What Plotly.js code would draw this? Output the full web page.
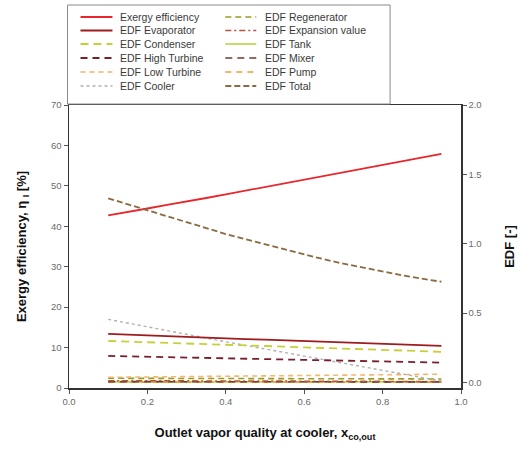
<!DOCTYPE html>
<html>
<head>
<meta charset="utf-8">
<script src="https://cdn.plot.ly/plotly-3.0.1.min.js"></script>
<style>html,body{margin:0;padding:0;background:#fff;}#chart{width:524px;height:451px;}</style>
</head>
<body>
<div id="chart"></div>
<script>
// ---- data ----
const xQuality = [0.10,0.15,0.20,0.25,0.30,0.35,0.40,0.45,0.50,0.55,0.60,0.65,0.70,0.75,0.80,0.85,0.90,0.95];
const exergyEff = [42.7,43.5,44.4,45.3,46.1,47.0,47.9,48.8,49.7,50.6,51.5,52.4,53.3,54.2,55.1,56.1,57.0,57.9];
const edfEvaporator = [0.350,0.344,0.339,0.334,0.328,0.323,0.318,0.313,0.308,0.303,0.298,0.293,0.288,0.284,0.279,0.275,0.269,0.264];
const edfCondenser = [0.299,0.295,0.290,0.285,0.281,0.276,0.271,0.267,0.262,0.258,0.253,0.249,0.244,0.240,0.235,0.231,0.226,0.221];
const edfHighTurbine = [0.191,0.188,0.185,0.182,0.179,0.176,0.173,0.170,0.167,0.164,0.161,0.158,0.155,0.152,0.150,0.147,0.145,0.143];
const edfLowTurbine = [0.037,0.038,0.040,0.041,0.042,0.044,0.045,0.046,0.048,0.049,0.050,0.052,0.053,0.054,0.056,0.057,0.058,0.060];
const edfCooler = [0.455,0.427,0.400,0.373,0.347,0.320,0.293,0.267,0.240,0.214,0.187,0.161,0.135,0.109,0.083,0.058,0.033,0.010];
const edfRegenerator = [0.030,0.030,0.030,0.029,0.029,0.029,0.028,0.028,0.028,0.027,0.027,0.027,0.026,0.026,0.026,0.025,0.025,0.025];
const edfExpansion = [0.013,0.013,0.012,0.012,0.012,0.011,0.011,0.011,0.010,0.010,0.010,0.009,0.009,0.008,0.008,0.007,0.007,0.006];
const edfTank = [0.004,0.004,0.004,0.004,0.004,0.004,0.004,0.004,0.004,0.004,0.004,0.004,0.004,0.004,0.004,0.004,0.004,0.004];
const edfMixer = [0.006,0.006,0.006,0.006,0.006,0.006,0.005,0.005,0.005,0.005,0.005,0.005,0.005,0.005,0.004,0.004,0.004,0.004];
const edfPump = [0.001,0.001,0.001,0.001,0.001,0.001,0.001,0.001,0.001,0.001,0.001,0.001,0.001,0.001,0.001,0.001,0.001,0.001];
const edfTotal = [1.327,1.284,1.240,1.196,1.153,1.110,1.070,1.032,0.995,0.958,0.923,0.888,0.856,0.827,0.799,0.772,0.748,0.726];

const seriesNames = ["Exergy efficiency","EDF Evaporator","EDF Condenser","EDF High Turbine","EDF Low Turbine","EDF Cooler",
                     "EDF Regenerator","EDF Expansion value","EDF Tank","EDF Mixer","EDF Pump","EDF Total"];
const seriesValues = [exergyEff,edfEvaporator,edfCondenser,edfHighTurbine,edfLowTurbine,edfCooler,
                      edfRegenerator,edfExpansion,edfTank,edfMixer,edfPump,edfTotal];
const xTickLabels = ["0.0","0.2","0.4","0.6","0.8","1.0"];
const y2TickLabels = ["0.0","0.5","1.0","1.5","2.0"];

// ---- styles ----
const colors = ["#e8262c","#9e1b1e","#c9cf3a","#7a1e2c","#f5b56a","#b0b0b0",
                "#9c9a22","#b5523e","#b9d44a","#6e3b2c","#f09a3c","#8a6a40"];
const dashes = ["solid","solid","8px,5px","7px,5px","5px,4px","dot",
                "6px,4px","6px,3px,2px,3px","solid","7px,5px","6px,5px","6px,3px"];
const widths = [1.8,1.8,1.8,1.8,1.6,1.4,1.6,1.5,1.6,1.6,1.6,1.8];

const traces = seriesNames.map((n,i)=>({
  x: xQuality, y: seriesValues[i], name: n, type: 'scatter', mode: 'lines',
  yaxis: i === 0 ? 'y' : 'y2',
  line: {color: colors[i], dash: dashes[i], width: widths[i]},
  showlegend: false
}));
const order = [8,10,9,7,6,4,5,3,2,1,11,0];
const data = order.map(i=>traces[i]);

// ---- manual legend geometry (pixels -> paper) ----
const L = 68.5, R = 461, T = 105, B = 388;
const px = v => (v - L) / (R - L);
const py = v => (B - v) / (B - T);
const shapes = [{type:'rect', xref:'paper', yref:'paper', x0:px(67), x1:px(390), y0:py(5), y1:py(104),
  line:{color:'#8a8a8a', width:1}, fillcolor:'#ffffff', layer:'above'}];
const annotations = [];
const rowY = [17,30.5,44,58,72,86];
seriesNames.forEach((n,i)=>{
  const col = i < 6 ? 0 : 1, row = i % 6;
  const sx0 = col ? 225 : 80, sx1 = col ? 256 : 112, tx = col ? 263 : 118;
  shapes.push({type:'line', xref:'paper', yref:'paper', x0:px(sx0), x1:px(sx1), y0:py(rowY[row]), y1:py(rowY[row]),
    line:{color:colors[i], dash:dashes[i], width:widths[i]}, layer:'above'});
  annotations.push({xref:'paper', yref:'paper', x:px(tx), y:py(rowY[row]), xanchor:'left', yanchor:'middle',
    text:n, showarrow:false, font:{family:'Arial, Liberation Sans, sans-serif', size:10.5, color:'#3a3a3a'}});
});

const tickFont = {family:'Arial, Liberation Sans, sans-serif', size:9.5, color:'#6a6a6a'};
const titleFont = {family:'Arial, Liberation Sans, sans-serif', size:13, color:'#111', weight:'bold'};

const layout = {
  width:524, height:451,
  margin:{l:68.5, r:63, t:105, b:63, pad:0},
  paper_bgcolor:'#fff', plot_bgcolor:'#fff',
  showlegend:false,
  xaxis:{range:[0,1], tickvals:[0,0.2,0.4,0.6,0.8,1.0], ticktext:xTickLabels,
    showgrid:false, zeroline:false, showline:true, linecolor:'#333', linewidth:1.5, mirror:true,
    ticks:'outside', ticklen:4, tickcolor:'#555', tickfont:tickFont,
    title:{text:'Outlet vapor quality at cooler, x<sub>co,out</sub>', font:titleFont, standoff:22}},
  yaxis:{range:[0,70], dtick:10, showgrid:false, zeroline:false, showline:true, linecolor:'#333', linewidth:1.5,
    ticks:'outside', ticklen:4, tickcolor:'#555', tickfont:tickFont,
    title:{text:'Exergy efficiency, η <sub>I</sub> [%]', font:titleFont, standoff:21}},
  yaxis2:{range:[-0.04,2.0], overlaying:'y', side:'right', tickvals:[0,0.5,1.0,1.5,2.0], ticktext:y2TickLabels,
    showgrid:false, zeroline:false, showline:true, linecolor:'#333', linewidth:1.5,
    ticks:'outside', ticklen:4, tickcolor:'#555', tickfont:tickFont,
    title:{text:'EDF [-]', font:titleFont, standoff:24}},
  shapes:shapes, annotations:annotations
};

Plotly.newPlot('chart', data, layout, {displayModeBar:false, staticPlot:true});
</script>
</body>
</html>
